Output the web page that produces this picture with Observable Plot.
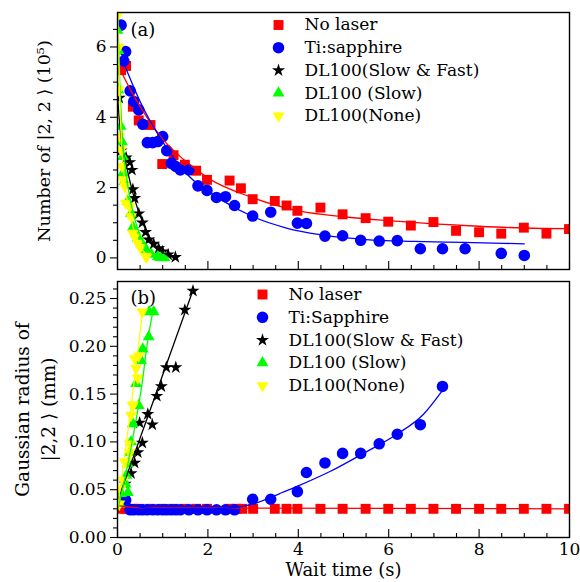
<!DOCTYPE html>
<html><head><meta charset="utf-8">
<script src="https://cdn.jsdelivr.net/npm/d3@7"></script>
<script src="https://cdn.jsdelivr.net/npm/@observablehq/plot@0.6"></script>
<style>
body{margin:0;background:#fff;}
#wrap{position:relative;width:580px;height:582px;overflow:hidden;}
#wrap svg, #wrap svg text{font-family:"DejaVu Serif","Liberation Serif","Noto Serif",serif !important;}
#top,#bot{position:absolute;left:0;}
#top{top:0;} #bot{top:275px;}
</style></head><body><div id="wrap"><div id="top"></div><div id="bot"></div></div>
<script>
// ---------- labels ----------
const namesA = ["No laser", "Ti:sapphire", "DL100(Slow & Fast)", "DL100 (Slow)", "DL100(None)"];
const namesB = ["No laser", "Ti:Sapphire", "DL100(Slow & Fast)", "DL100 (Slow)", "DL100(None)"];
const colors = ["#ff0000", "#0000ff", "#000000", "#00ff00", "#ffff00"];
const xMajor = [0, 2, 4, 6, 8, 10];
const xMinor = [0.5,1,1.5,2.5,3,3.5,4.5,5,5.5,6.5,7,7.5,8.5,9,9.5];
const yMajorA = [0, 2, 4, 6];
const yMinorA = [0.5,1,1.5,2.5,3,3.5,4.5,5,5.5,6.5];
const yMajorB = [0, 0.05, 0.10, 0.15, 0.20, 0.25];
const yMinorB = [0.01,0.02,0.03,0.04,0.06,0.07,0.08,0.09,0.11,0.12,0.13,0.14,0.16,0.17,0.18,0.19,0.21,0.22,0.23,0.24,0.26];

// ---------- panel (a): number of atoms (1e5) ----------
const aRedX = [0.08,0.19,0.34,0.47,0.73,0.99,1.24,1.49,1.74,1.98,2.48,2.73,2.99,3.48,3.74,3.98,4.49,4.98,5.49,5.99,6.49,6.99,7.49,8.0,8.49,8.99,9.49,9.99];
const aRedY = [5.34,5.46,4.3,3.91,3.78,2.67,2.92,2.65,2.48,2.22,2.2,1.98,1.67,1.62,1.49,1.34,1.43,1.24,1.13,1.03,0.92,1.02,0.77,0.73,0.69,0.86,0.69,0.82];
const aBlueX = [0.08,0.14,0.18,0.28,0.36,0.47,0.56,0.66,0.78,0.89,1.0,1.09,1.19,1.29,1.39,1.58,1.78,1.98,2.19,2.39,2.59,2.99,3.39,3.98,4.18,4.59,4.98,5.38,5.79,6.19,6.7,7.19,7.69,8.49,9.0];
const aBlueY = [6.62,5.6,5.87,4.75,4.45,4.21,3.8,3.28,3.28,3.31,3.45,3.05,2.69,2.6,2.5,2.5,2.05,1.92,1.72,1.74,1.49,1.19,1.3,0.99,0.98,0.62,0.63,0.5,0.48,0.49,0.26,0.26,0.26,0.13,0.07];
const aBlackX = [0.02,0.04,0.08,0.19,0.27,0.32,0.34,0.38,0.47,0.55,0.62,0.69,0.8,0.91,1.0,1.12,1.28];
const aBlackY = [3.3,4.55,3.05,2.85,2.72,2.5,1.95,1.7,1.26,1.0,0.73,0.52,0.4,0.27,0.18,0.09,0.02];
const aGreenX = [0.0,0.02,0.02,0.07,0.1,0.12,0.12,0.15,0.22,0.3,0.34,0.41,0.45,0.55,0.64,0.75,0.89,0.95,1.04];
const aGreenY = [6.47,5.9,4.78,3.74,3.3,2.88,2.41,2.17,1.6,1.27,0.87,0.7,0.56,0.4,0.23,0.1,0.03,0.01,0.0];
const aYellowX = [0.0,0.03,0.03,0.04,0.08,0.1,0.12,0.16,0.18,0.27,0.3,0.34,0.38,0.45,0.5,0.62,0.64];
const aYellowY = [6.9,6.0,4.78,3.46,3.07,2.6,2.22,2.03,1.56,1.46,1.17,0.7,0.6,0.42,0.3,0.05,0.02];
// fitted curves
const aRedFitX = [0.06,0.3,0.71,1.0,1.45,2.04,2.93,4.04,5,6,7,8,9,10];
const aRedFitY = [5.35,4.75,3.88,3.38,2.81,2.24,1.74,1.33,1.17,1.06,0.97,0.9,0.85,0.83];
const aBlueFitX = [0.12,0.5,1.0,1.6,2.26,3.0,3.74,4.48,5.5,6.55,7.66,9.0];
const aBlueFitY = [5.6,4.45,3.3,2.3,1.68,1.17,0.85,0.66,0.52,0.47,0.44,0.40];
const aBlackFitX = [0.0,0.08,0.2,0.35,0.56,0.75,0.95,1.1,1.3];
const aBlackFitY = [4.6,3.4,2.6,1.8,1.0,0.5,0.2,0.08,0.0];
const aGreenFitX = [0.0,0.05,0.1,0.2,0.35,0.5,0.7,0.9,1.05];
const aGreenFitY = [7.2,5.0,3.6,2.3,1.25,0.65,0.22,0.05,0.0];
const aYellowFitX = [0.0,0.03,0.08,0.15,0.3,0.45,0.6,0.7];
const aYellowFitY = [7.2,5.4,3.5,2.3,1.1,0.5,0.15,0.05];

// ---------- panel (b): Gaussian radius (mm) ----------
const bRedX = [0.12,0.19,0.34,0.47,0.73,0.99,1.24,1.49,1.74,1.98,2.48,2.63,2.76,3.0,3.48,3.74,3.98,4.49,4.98,5.49,5.99,6.49,6.99,7.49,8.0,8.49,8.99,9.49,9.99];
const bRedY = [0.03,0.03,0.03,0.03,0.03,0.03,0.03,0.03,0.03,0.03,0.03,0.03,0.03,0.03,0.03,0.03,0.03,0.03,0.03,0.03,0.03,0.03,0.03,0.03,0.03,0.03,0.03,0.03,0.03];
const bBlueX = [0.18,0.28,0.36,0.47,0.56,0.66,0.78,0.89,1.0,1.09,1.19,1.29,1.39,1.58,1.78,1.98,2.19,2.39,2.59,2.99,3.39,3.98,4.18,4.59,4.98,5.38,5.79,6.19,6.7,7.19];
const bBlueY = [0.039,0.029,0.029,0.029,0.029,0.029,0.029,0.029,0.029,0.029,0.029,0.029,0.029,0.029,0.029,0.029,0.029,0.029,0.029,0.04,0.04,0.048,0.068,0.078,0.088,0.088,0.098,0.108,0.118,0.158];
const bBlackX = [0.0,0.17,0.3,0.38,0.45,0.49,0.55,0.67,0.77,0.87,0.97,1.08,1.29,1.49,1.67];
const bBlackY = [0.047,0.056,0.067,0.078,0.089,0.12,0.099,0.129,0.118,0.148,0.158,0.178,0.178,0.238,0.258];
const bGreenX = [0.05,0.08,0.18,0.23,0.2,0.23,0.27,0.3,0.34,0.41,0.47,0.52,0.56,0.69,0.7,0.8];
const bGreenY = [0.035,0.046,0.056,0.047,0.065,0.077,0.089,0.1,0.119,0.161,0.138,0.185,0.197,0.21,0.236,0.236];
const bYellowX = [0.04,0.06,0.12,0.16,0.19,0.27,0.27,0.3,0.34,0.35,0.38,0.41,0.45,0.47,0.55];
const bYellowY = [0.035,0.051,0.06,0.079,0.079,0.089,0.098,0.128,0.138,0.139,0.187,0.177,0.167,0.19,0.236];
const bRedFitX = [0.05,0.5,10];
const bRedFitY = [0.033,0.031,0.030];
const bBlueFitX = [0.2,0.6,1.0,2.0,2.5,3.0,3.59,4.0,4.7,5.44,6.18,6.77,7.19];
const bBlueFitY = [0.036,0.031,0.030,0.030,0.031,0.035,0.046,0.054,0.069,0.088,0.108,0.129,0.154];
const bBlackFitX = [0.0,1.68];
const bBlackFitY = [0.038,0.26];
const bGreenFitX = [0.0,0.2,0.4,0.55,0.65,0.78];
const bGreenFitY = [0.028,0.07,0.12,0.163,0.2,0.236];
const bYellowFitX = [0.0,0.5,0.55];
const bYellowFitY = [0.03,0.215,0.236];

// ---------- helpers ----------
const pts = (X, Y) => X.map((x, i) => ({x, y: Y[i]}));
const triDown = {
  draw(context, size) {
    const s3 = Math.sqrt(3);
    const y = -Math.sqrt(size / (s3 * 3));
    context.moveTo(0, -y * 2);
    context.lineTo(-s3 * y, y);
    context.lineTo(s3 * y, y);
    context.closePath();
  }
};
const symbols = ["square", "circle", "star", "triangle", triDown];
const radii = [5.6, 5.8, 4.1, 4.4, 4.4];
const FONT = "DejaVu Serif";

function panel(opts) {
  const {series, fits, names, yDomain, yMajor, yMinor, yFmt, height, marginTop, marginBottom,
         tag, tagDy, legDx, legTextDx, legDy0, legStep, yTitle, yTitleDx, yTitleSize, bottomAxis} = opts;
  const marks = [];
  series.forEach((s, i) => {
    marks.push(Plot.dot(s, {x: "x", y: "y", symbol: () => symbols[i], fill: colors[i], stroke: "none", r: radii[i], clip: true}));
  });
  fits.forEach((f, i) => {
    marks.push(Plot.line(f, {x: "x", y: "y", stroke: colors[i], strokeWidth: 1.3, curve: "monotone-x", clip: true}));
  });
  marks.push(Plot.frame({stroke: "#000", strokeWidth: 1.4}));
  marks.push(Plot.axisX({ticks: xMajor, tickSize: 8, dy: -8, tickFormat: () => "", label: null, strokeWidth: 1.1}));
  marks.push(Plot.axisX({ticks: xMinor, tickSize: 4, dy: -4, tickFormat: () => "", label: null, strokeWidth: 1.1}));
  if (bottomAxis) {
    marks.push(Plot.axisX({ticks: xMajor, tickSize: 0, tickPadding: 5, tickFormat: d => String(d), label: null, fontSize: 17, fontFamily: FONT}));
    marks.push(Plot.text(["Wait time (s)"], {frameAnchor: "bottom", dy: 33, textAnchor: "middle", lineAnchor: "middle", fontSize: 18, fontFamily: FONT, text: d => d}));
  }
  marks.push(Plot.axisY({ticks: yMajor, tickSize: 7, tickPadding: 4, tickFormat: yFmt, label: null, fontSize: 17, fontFamily: FONT, strokeWidth: 1.1}));
  marks.push(Plot.axisY({ticks: yMinor, tickSize: 4, tickFormat: () => "", label: null, strokeWidth: 1.1}));
  marks.push(Plot.text([yTitle], {frameAnchor: "left", dx: yTitleDx, rotate: -90, textAnchor: "middle", lineAnchor: "middle", lineHeight: 1.45, fontSize: yTitleSize, fontFamily: FONT, text: d => d}));
  marks.push(Plot.text([tag], {frameAnchor: "top-left", dx: 13, dy: tagDy, textAnchor: "start", lineAnchor: "middle", fontSize: 18, fontFamily: FONT, text: d => d}));
  names.forEach((n, i) => {
    marks.push(Plot.dot([n], {frameAnchor: "top-left", dx: legDx, dy: legDy0 + i * legStep, symbol: () => symbols[i], fill: colors[i], r: radii[i]}));
    marks.push(Plot.text([n], {frameAnchor: "top-left", dx: legTextDx, dy: legDy0 + i * legStep, textAnchor: "start", lineAnchor: "middle", fontSize: 17, fontFamily: FONT, text: d => d}));
  });
  return Plot.plot({
    width: 580, height, marginLeft: 117, marginRight: 11, marginTop, marginBottom,
    x: {domain: [0, 10]},
    y: {domain: yDomain},
    style: {fontFamily: FONT, fontSize: "17px", background: "transparent", overflow: "visible", color: "#000"},
    marks
  });
}

const topPlot = panel({
  series: [pts(aRedX, aRedY), pts(aBlueX, aBlueY), pts(aBlackX, aBlackY), pts(aGreenX, aGreenY), pts(aYellowX, aYellowY)],
  fits: [pts(aRedFitX, aRedFitY), pts(aBlueFitX, aBlueFitY), pts(aBlackFitX, aBlackFitY), pts(aGreenFitX, aGreenFitY), pts(aYellowFitX, aYellowFitY)],
  names: namesA, yDomain: [-0.33, 6.98], yMajor: yMajorA, yMinor: yMinorA, yFmt: d => String(d),
  height: 275, marginTop: 12, marginBottom: 6,
  tag: "(a)", tagDy: 18, legDx: 161, legTextDx: 187, legDy0: 12.5, legStep: 22.7,
  yTitle: "Number of |2, 2 ⟩ (10⁵)", yTitleDx: -76, yTitleSize: 17.5, bottomAxis: false
});
const botPlot = panel({
  series: [pts(bRedX, bRedY), pts(bBlueX, bBlueY), pts(bBlackX, bBlackY), pts(bGreenX, bGreenY), pts(bYellowX, bYellowY)],
  fits: [pts(bRedFitX, bRedFitY), pts(bBlueFitX, bBlueFitY), pts(bBlackFitX, bBlackFitY), pts(bGreenFitX, bGreenFitY), pts(bYellowFitX, bYellowFitY)],
  names: namesB, yDomain: [0, 0.2678], yMajor: yMajorB, yMinor: yMinorB, yFmt: d3.format(".2f"),
  height: 307, marginTop: 6, marginBottom: 45,
  tag: "(b)", tagDy: 17, legDx: 145, legTextDx: 171, legDy0: 13, legStep: 22.8,
  yTitle: "Gaussian radius of\n|2,2 ⟩ (mm)", yTitleDx: -84, yTitleSize: 18.5, bottomAxis: true
});
document.getElementById("top").appendChild(topPlot);
document.getElementById("bot").appendChild(botPlot);
</script>
</body></html>
